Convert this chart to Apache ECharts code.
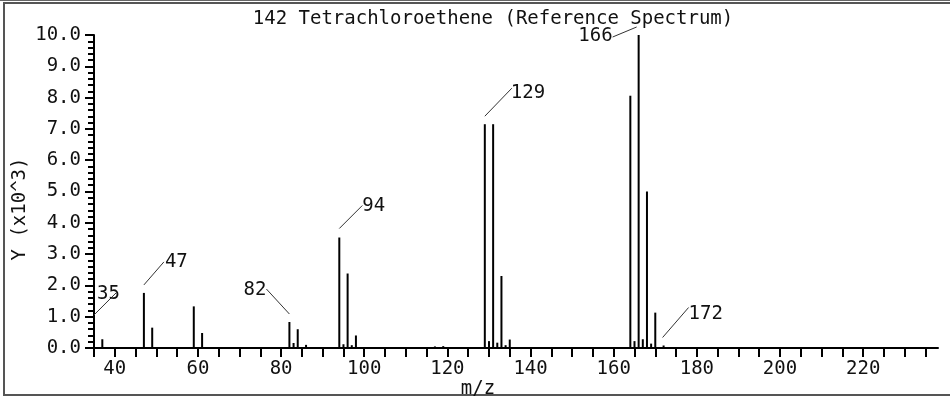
<!DOCTYPE html>
<html>
<head>
<meta charset="utf-8">
<script src="https://cdn.jsdelivr.net/npm/echarts@6/dist/echarts.min.js"></script>
<style>
  html, body { margin: 0; padding: 0; background: #fff; }
  #chart { width: 950px; height: 397px; }
</style>
</head>
<body>
<div id="chart"></div>
<script>
// Mass spectrum of tetrachloroethene: m/z and abundance (x10^3)
const mzValues = [35, 37, 47, 49, 59, 61, 82, 83, 84, 86, 94, 95, 96, 97, 98, 117, 119,
  129, 130, 131, 132, 133, 134, 135, 164, 165, 166, 167, 168, 169, 170, 172];
const abundance = [0.80, 0.28, 1.76, 0.65, 1.33, 0.48, 0.83, 0.16, 0.60, 0.10, 3.53, 0.12, 2.38, 0.09, 0.40, 0.05, 0.06,
  7.15, 0.22, 7.15, 0.17, 2.30, 0.09, 0.27, 8.06, 0.22, 10.0, 0.28, 5.00, 0.14, 1.13, 0.08];

// Peaks that carry an m/z annotation
const labelledPeaks = [35, 47, 82, 94, 129, 166, 172];

// Axis ticks and labels
const xTicks = [];
for (let v = 35; v <= 235; v += 5) xTicks.push(v);
const xTickLabels = [40, 60, 80, 100, 120, 140, 160, 180, 200, 220];

const titleText = '142 Tetrachloroethene (Reference Spectrum)';
const xName = 'm/z';
const yName = 'Y (x10^3)';

// Leader-line / label placement in pixels relative to the top of each annotated peak
const annotLayout = {
  35:  { l: [0, -8, 22, -30],  t: [3, -29],   align: 'left' },
  47:  { l: [0, -8, 20, -31],  t: [21, -31],  align: 'left' },
  82:  { l: [0, -8, -23, -33], t: [-23, -32], align: 'right' },
  94:  { l: [0, -9, 23, -32],  t: [23, -31],  align: 'left' },
  129: { l: [0, -8, 27, -36],  t: [26, -31],  align: 'left' },
  166: { l: [-2, -8, -26, 2],  t: [-26, 1],   align: 'right' },
  172: { l: [-1, -8, 25, -38], t: [25, -31],  align: 'left' }
};

const FONT = '"DejaVu Sans Mono", monospace';
const FS = 19;

const peakData = mzValues.map((m, i) => [m, abundance[i]]);
const annotData = labelledPeaks.map(m => [m, abundance[mzValues.indexOf(m)]]);

const chart = echarts.init(document.getElementById('chart'), null, { renderer: 'canvas' });

chart.setOption({
  backgroundColor: '#fff',
  animation: false,
  grid: { left: 94, right: 12, top: 35, bottom: 49 },
  xAxis: {
    type: 'value',
    min: 35,
    max: 238,
    interval: 5,
    axisLine: { show: true, onZero: false, lineStyle: { color: '#000', width: 2 } },
    axisTick: { show: true, length: 9, inside: false, customValues: xTicks,
      lineStyle: { color: '#000', width: 2 } },
    axisLabel: { customValues: xTickLabels, color: '#111', fontFamily: FONT, fontSize: FS, margin: 12 },
    splitLine: { show: false }
  },
  yAxis: {
    type: 'value',
    min: 0,
    max: 10,
    interval: 1,
    axisLine: { show: true, lineStyle: { color: '#000', width: 2 } },
    axisTick: { show: true, length: 9, lineStyle: { color: '#000', width: 2 } },
    minorTick: { show: true, splitNumber: 5, length: 6, lineStyle: { color: '#000', width: 2 } },
    axisLabel: { color: '#111', fontFamily: FONT, fontSize: FS, margin: 13,
      formatter: v => v.toFixed(1) },
    splitLine: { show: false }
  },
  graphic: [
    { type: 'rect', shape: { x: 4, y: 3, width: 950, height: 392 },
      style: { fill: 'none', stroke: '#555', lineWidth: 2 }, silent: true },
    { type: 'line', shape: { x1: 0, y1: 0.5, x2: 950, y2: 0.5 },
      style: { stroke: '#666', lineWidth: 1 }, silent: true },
    { type: 'text', x: 493, y: 19,
      style: { text: titleText, font: FS + 'px ' + FONT, fill: '#111', align: 'center', verticalAlign: 'middle' } },
    { type: 'text', x: 478, y: 389,
      style: { text: xName, font: FS + 'px ' + FONT, fill: '#111', align: 'center', verticalAlign: 'middle' } },
    { type: 'text', x: 20, y: 209, rotation: Math.PI / 2,
      style: { text: yName, font: FS + 'px ' + FONT, fill: '#111', align: 'center', verticalAlign: 'middle' } }
  ],
  series: [
    {
      name: 'peaks',
      type: 'custom',
      clip: false,
      data: peakData,
      renderItem: function (params, api) {
        const base = api.coord([api.value(0), 0]);
        const top = api.coord([api.value(0), api.value(1)]);
        return {
          type: 'line',
          shape: { x1: base[0], y1: base[1], x2: top[0], y2: top[1] },
          style: { stroke: '#000', lineWidth: 2 }
        };
      }
    },
    {
      name: 'annotations',
      type: 'custom',
      clip: false,
      data: annotData,
      renderItem: function (params, api) {
        const m = api.value(0);
        const p = api.coord([m, api.value(1)]);
        const a = annotLayout[m];
        return {
          type: 'group',
          children: [
            { type: 'line',
              shape: { x1: p[0] + a.l[0], y1: p[1] + a.l[1], x2: p[0] + a.l[2], y2: p[1] + a.l[3] },
              style: { stroke: '#333', lineWidth: 1 } },
            { type: 'text', x: p[0] + a.t[0], y: p[1] + a.t[1],
              style: { text: String(m), font: FS + 'px ' + FONT, fill: '#111',
                align: a.align, verticalAlign: 'middle' } }
          ]
        };
      }
    }
  ]
});
</script>
</body>
</html>
